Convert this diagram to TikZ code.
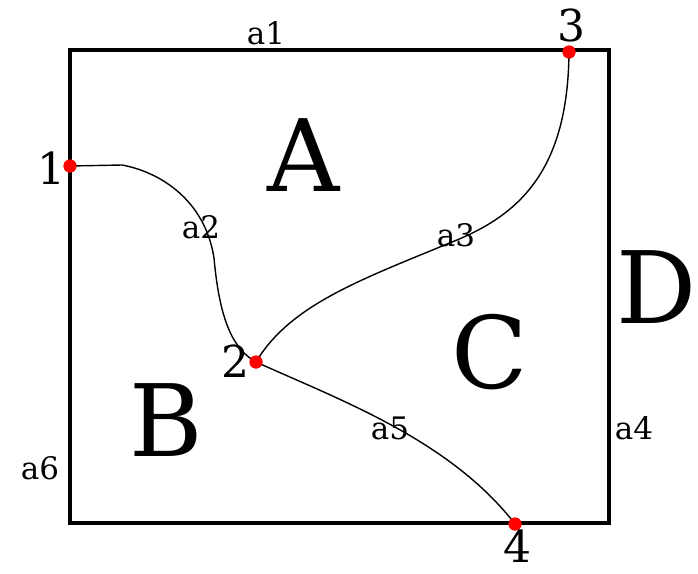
\documentclass[tikz,border=0pt]{standalone}
\usepackage{fontspec}
\setmainfont{DejaVu Serif}
\begin{document}
\begin{tikzpicture}[x=1pt,y=-1pt,
  dot/.style={circle,fill=red,inner sep=0pt,minimum size=13pt},
  edgelbl/.style={font=\fontsize{31}{33}\selectfont,inner sep=0pt},
  ptlbl/.style={font=\fontsize{44}{46}\selectfont,inner sep=0pt},
  region/.style={font=\fontsize{100}{102}\selectfont,inner sep=0pt},
  curve/.style={line width=1.4pt}]
\useasboundingbox (0,0) rectangle (698,573);
\draw[line width=3.2pt] (70,50) rectangle (609,523);
\coordinate (k1) at (122,165);
\node[dot] (p1) at (70,166) {};
\node[dot] (p2) at (256,362) {};
\node[dot] (p3) at (569,52) {};
\node[dot] (p4) at (515,524) {};
\draw[curve] (p1.center) -- (k1) .. controls (160,172) and (205,200) .. (214,258) .. controls (220,325) and (235,350) .. (p2.center);
\draw[curve] (p2.center) .. controls (290,305) and (360,280) .. (452,242) .. controls (520,215) and (568,170) .. (p3.center);
\draw[curve] (p2.center) .. controls (340,400) and (450,440) .. (p4.center);
\node[dot] at (p1) {};
\node[dot] at (p2) {};
\node[dot] at (p3) {};
\node[dot] at (p4) {};
\node[edgelbl] (a1) at (266,33) {a1};
\node[edgelbl] (a2) at (201,227) {a2};
\node[edgelbl] (a3) at (456,235) {a3};
\node[edgelbl] (a4) at (634,428) {a4};
\node[edgelbl] (a5) at (390,428) {a5};
\node[edgelbl] (a6) at (40,468) {a6};
\node[ptlbl] (l1) at (51,168) {1};
\node[ptlbl] (l2) at (235,361) {2};
\node[ptlbl] (l3) at (571,25) {3};
\node[ptlbl] (l4) at (517,546) {4};
\node[region] (rA) at (304,155) {A};
\node[region] (rB) at (166,420) {B};
\node[region] (rC) at (490,352) {C};
\node[region] (rD) at (657,287) {D};
\end{tikzpicture}
\end{document}
